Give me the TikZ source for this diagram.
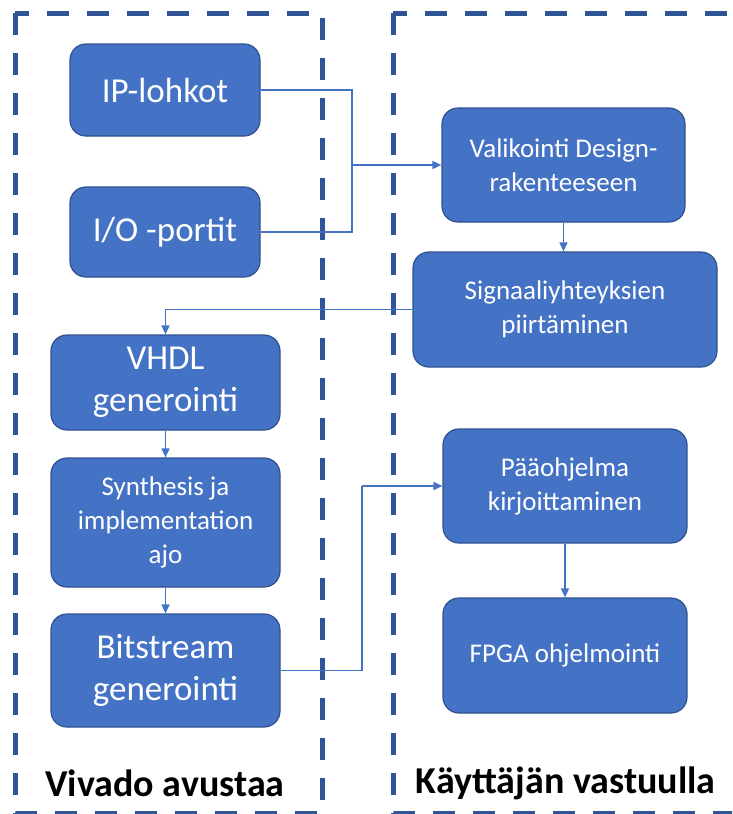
\documentclass[tikz,border=0pt]{standalone}
\usepackage{fontspec}
\setmainfont{Carlito}
\usetikzlibrary{arrows.meta}
\definecolor{boxblue}{HTML}{4472C4}
\definecolor{boxedge}{HTML}{2F528F}
\definecolor{dashblue}{HTML}{2F5597}
\begin{document}
\begin{tikzpicture}[x=1pt,y=-1pt,
  stepbox/.style={draw=boxedge, line width=1.2pt, fill=boxblue, rounded corners=16pt,
    text=white, align=center, inner sep=0pt},
  bigtxt/.style={font=\fontsize{35}{42}\selectfont},
  smalltxt/.style={font=\fontsize{27}{34}\selectfont},
  region/.style={draw=dashblue, line width=5pt, dash pattern=on 22pt off 18pt},
  conn/.style={draw=boxblue, line width=1.6pt},
  arr/.style={conn, -{Triangle[length=9pt,width=8pt]}},
  regionlabel/.style={font=\fontsize{38}{44}\selectfont\bfseries, text=black, inner sep=0pt}
]
\useasboundingbox (0,0) rectangle (732,814);
\begin{scope}
\clip (0,0) rectangle (732,814);
\draw[region] (15,13) rectangle (322,813);
\draw[region] (393,13) rectangle (780,813);
\end{scope}

\node[stepbox, bigtxt, minimum width=190pt, minimum height=92pt] (ip) at (165,90) {IP-lohkot};
\node[stepbox, bigtxt, minimum width=190pt, minimum height=90pt] (io) at (165,232) {I/O -portit};
\node[stepbox, smalltxt, minimum width=243pt, minimum height=114pt] (vali) at (563.5,165) {Valikointi Design-\\rakenteeseen};
\node[stepbox, smalltxt, minimum width=304pt, minimum height=115pt] (sig) at (565,309.5) {Signaaliyhteyksien\\piirtäminen};
\node[stepbox, bigtxt, minimum width=229pt, minimum height=95pt] (vhdl) at (165.5,382.5) {VHDL\\generointi};
\node[stepbox, smalltxt, minimum width=229pt, minimum height=129pt] (syn) at (165.5,522.5) {Synthesis ja\\implementation\\ajo};
\node[stepbox, bigtxt, minimum width=229pt, minimum height=113pt] (bit) at (165.5,670.5) {Bitstream\\generointi};
\node[stepbox, smalltxt, minimum width=244pt, minimum height=114pt] (paa) at (565,486) {Pääohjelma\\kirjoittaminen};
\node[stepbox, smalltxt, minimum width=244pt, minimum height=115pt] (fpga) at (565,655.5) {FPGA ohjelmointi};

\node[regionlabel] (lv) at (165,783) {Vivado avustaa};
\node[regionlabel] (lk) at (565.5,783) {Käyttäjän vastuulla};

\coordinate (j) at (352,165);
\coordinate (k) at (362,486);
\draw[conn] (ip.east) -| (j);
\draw[conn] (io.east) -| (j);
\draw[arr] (j) -- (vali.west);
\draw[arr] (vali.south) -- (vali.south |- sig.north);
\draw[arr] (sig.west) -| (vhdl.north);
\draw[arr] (vhdl.south) -- (syn.north);
\draw[arr] (syn.south) -- (bit.north);
\draw[conn] (bit.east) -| (k);
\draw[arr] (k) -- (paa.west);
\draw[arr] (paa.south) -- (fpga.north);
\end{tikzpicture}
\end{document}
